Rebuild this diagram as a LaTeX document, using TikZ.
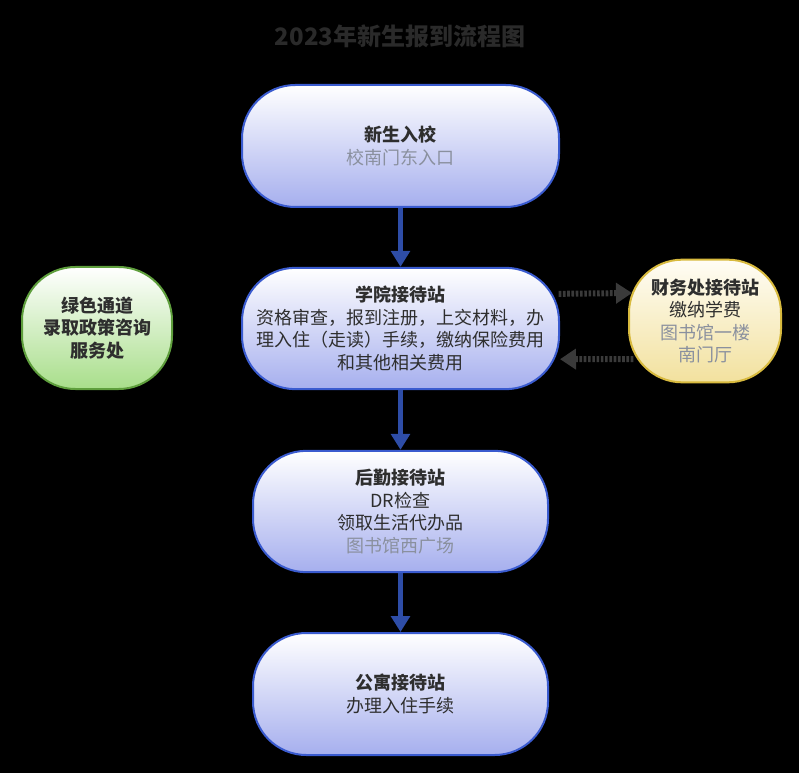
\documentclass[tikz,border=0pt]{standalone}
\usepackage{fontspec}
\setmainfont{Noto Sans CJK SC}
\usetikzlibrary{arrows.meta}
\definecolor{bblue}{HTML}{3A5BCF}
\definecolor{bbot}{HTML}{A6AFEE}
\definecolor{arrblue}{HTML}{2E4DA7}
\definecolor{gborder}{HTML}{5E9E3C}
\definecolor{gbot}{HTML}{A8DE8A}
\definecolor{yborder}{HTML}{D8BA3E}
\definecolor{ybot}{HTML}{F2E19E}
\definecolor{txtdark}{HTML}{2E2E2E}
\definecolor{txtgray}{HTML}{8A909E}
\definecolor{dotgray}{HTML}{3A3A3A}
\tikzset{
  box/.style={draw=bblue, line width=1.5pt, top color=white, bottom color=bbot,
    rounded corners=40pt, align=center, font=\fontsize{13.5}{16.9}\selectfont,
    text=txtdark, inner sep=0pt},
  gbox/.style={box, draw=gborder, bottom color=gbot, font=\bfseries\fontsize{13.5}{16.9}\selectfont},
  ybox/.style={box, draw=yborder, bottom color=ybot, top color={rgb,255:red,255;green,253;blue,245}},
  flow/.style={draw=arrblue, line width=4pt, -{Triangle[length=12pt,width=14pt]}},
  dotarr/.style={draw=dotgray, line width=4.5pt, dash pattern=on 2pt off 1.2pt,
    -{Triangle[length=12pt,width=15pt]}},
  ttl/.style={font=\bfseries\fontsize{18}{20}\selectfont, text={rgb,255:red,42;green,42;blue,42}},
}
\begin{document}
\begin{tikzpicture}[x=0.75pt,y=-0.75pt]
\fill[black] (0,0) rectangle (799,773);
\useasboundingbox (0,0) rectangle (799,773);
\node[ttl] (title) at (400,36) {2023年新生报到流程图};
\node[box, minimum width=237.75pt, minimum height=91.5pt] (n1) at (400.5,146)
  {\textbf{新生入校}\\\textcolor{txtgray}{校南门东入口}};
\node[box, minimum width=237.75pt, minimum height=91pt] (n2) at (400.5,328.5)
  {\textbf{学院接待站}\\资格审查，报到注册，上交材料，办\\理入住（走读）手续，缴纳保险费用\\和其他相关费用};
\node[box, minimum width=221.25pt, minimum height=91pt] (n3) at (400.5,511.5)
  {\textbf{后勤接待站}\\DR检查\\领取生活代办品\\\textcolor{txtgray}{图书馆西广场}};
\node[box, minimum width=221.25pt, minimum height=91.5pt] (n4) at (400.5,694)
  {\textbf{公寓接待站}\\办理入住手续};
\node[gbox, minimum width=112.5pt, minimum height=91.5pt] (g) at (97,328)
  {绿色通道\\录取政策咨询\\服务处};
\node[ybox, minimum width=114pt, minimum height=92pt] (y) at (705,321)
  {\textbf{财务处接待站}\\缴纳学费\\\textcolor{txtgray}{图书馆一楼}\\\textcolor{txtgray}{南门厅}};
\draw[flow] (n1) -- (n2);
\draw[flow] (n2) -- (n3);
\draw[flow] (n3) -- (n4);
\draw[dotarr] ([xshift=-1pt,yshift=26pt]n2.east) -- ([xshift=3pt,yshift=21pt]y.west);
\draw[dotarr] ([xshift=4pt,yshift=-28.5pt]y.west) -- ([yshift=-23pt]n2.east);
\end{tikzpicture}
\end{document}
